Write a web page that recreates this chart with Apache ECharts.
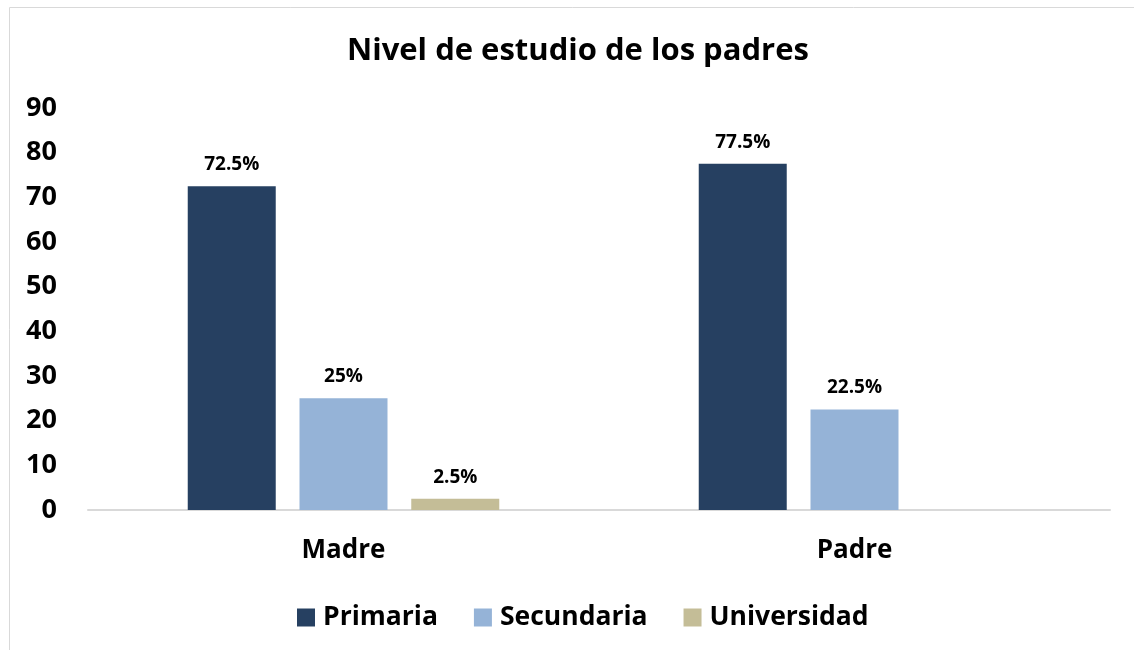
<!DOCTYPE html>
<html><head><meta charset="utf-8">
<script src="https://cdn.jsdelivr.net/npm/echarts@6/dist/echarts.min.js"></script>
<style>html,body{margin:0;padding:0;background:#fff}#c{width:1134px;height:650px}</style>
</head><body><div id="c"></div>
<script>
const categories = ['Madre', 'Padre'];
const seriesNames = ['Primaria', 'Secundaria', 'Universidad'];
const primaria = [72.5, 77.5];
const secundaria = [25, 22.5];
const universidad = [2.5, 0];
const labelsPrimaria = ['72.5%', '77.5%'];
const labelsSecundaria = ['25%', '22.5%'];
const labelsUniversidad = ['2.5%', ''];
const colors = ['#264061', '#95B3D7', '#C4BD97'];
const FONT = '"Open Sans", Lato, sans-serif';

const chart = echarts.init(document.getElementById('c'));
function mk(name, data, labels, color) {
  return {
    name, type: 'bar', data: data.map((v, i) => ({value: v, labelText: labels[i]})),
    barWidth: 88, barGap: '27%',
    itemStyle: {color},
    label: {show: true, position: 'top', distance: 12, color: '#000', fontFamily: FONT, fontWeight: 'bold', fontSize: 19,
      formatter: p => p.data.labelText}
  };
}
chart.setOption({
  animation: false,
  graphic: [{type: 'rect', shape: {x: 9.5, y: 7.5, width: 1200, height: 700}, style: {fill: 'none', stroke: '#D9D9D9', lineWidth: 1}, silent: true}],
  title: {text: 'Nivel de estudio de los padres', left: 342, top: 31,
    textStyle: {fontFamily: FONT, fontWeight: 'bold', fontSize: 31, color: '#000'}},
  legend: {bottom: 14, left: 292, itemWidth: 18, itemHeight: 18, itemGap: 36, icon: 'rect',
    textStyle: {fontFamily: FONT, fontWeight: 'bold', fontSize: 26.5, color: '#000', padding: [0, 0, 0, 3]}, data: seriesNames},
  grid: {left: 88, right: 24, top: 108, bottom: 140},
  xAxis: {type: 'category', data: categories,
    axisLine: {lineStyle: {color: '#D9D9D9', width: 2}}, axisTick: {show: false},
    axisLabel: {margin: 28, fontFamily: FONT, fontWeight: 'bold', fontSize: 26, color: '#000'}},
  yAxis: {type: 'value', min: 0, max: 90, interval: 10,
    axisLine: {show: false}, axisTick: {show: false}, splitLine: {show: false},
    axisLabel: {margin: 31, fontFamily: FONT, fontWeight: 'bold', fontSize: 27, color: '#000'}},
  series: [
    mk(seriesNames[0], primaria, labelsPrimaria, colors[0]),
    mk(seriesNames[1], secundaria, labelsSecundaria, colors[1]),
    mk(seriesNames[2], universidad, labelsUniversidad, colors[2])
  ]
});
</script></body></html>
